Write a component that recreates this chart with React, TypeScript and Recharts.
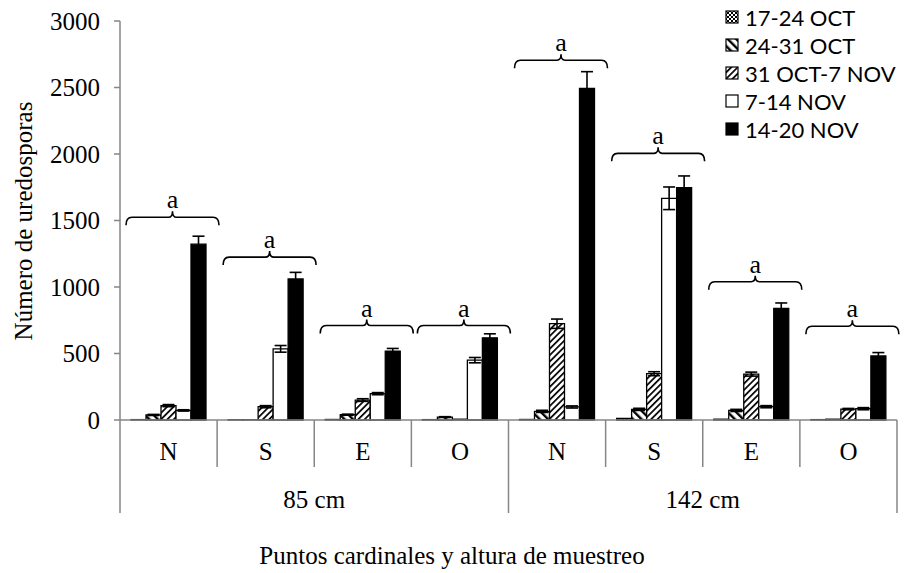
import { Bar, BarChart, ErrorBar, Label, Legend, XAxis, YAxis } from 'recharts'

const categories = ['N', 'S', 'E', 'O', 'N', 'S', 'E', 'O']
const heights = ['85 cm', '142 cm']
const seriesNames = ['17-24 OCT', '24-31 OCT', '31 OCT-7 NOV', '7-14 NOV', '14-20 NOV']

const oct17 = [3, 2, 4, 3, 4, 12, 6, 3]
const oct24 = [38, 2, 40, 22, 65, 80, 72, 6]
const oct31 = [108, 100, 150, 6, 724, 348, 345, 82]
const nov7 = [72, 535, 198, 450, 98, 1667, 100, 85]
const nov14 = [1322, 1060, 518, 618, 2494, 1747, 840, 482]

const errOct24 = [4, 0, 4, 3, 8, 8, 8, 0]
const errOct31 = [8, 8, 10, 0, 35, 15, 15, 5]
const errNov7 = [5, 25, 8, 20, 8, 85, 8, 8]
const errNov14 = [60, 50, 20, 30, 125, 88, 40, 25]

const bracketLevels = [1525, 1225, 710, 710, 2705, 2005, 1040, 705]
const bracketLetters = ['a', 'a', 'a', 'a', 'a', 'a', 'a', 'a']

const yTicks = [0, 500, 1000, 1500, 2000, 2500, 3000]

const data = categories.map((cat, i) => ({
  cat,
  oct17: oct17[i],
  oct24: oct24[i],
  oct31: oct31[i],
  nov7: nov7[i],
  nov14: nov14[i],
  errOct24: errOct24[i],
  errOct31: errOct31[i],
  errNov7: errNov7[i],
  errNov14: errNov14[i],
  bracket: bracketLevels[i],
}))

const W = 904
const H = 573
const MARGIN = { top: 21, right: 7, left: 0, bottom: 0 }
const Y_W = 120
const X_H = 153
const BAND = (W - Y_W - MARGIN.right) / categories.length
const AXIS = '#868686'
const SERIF = '"Liberation Serif", "Times New Roman", serif'
const FS = 25

const fills = ['url(#pChecker)', 'url(#pBack)', 'url(#pFwd)', '#ffffff', '#000000']

function Patterns() {
  return (
    <svg width={0} height={0} style={{ position: 'absolute' }}>
      <defs>
        <pattern id="pChecker" width={4} height={4} patternUnits="userSpaceOnUse">
          <rect width={4} height={4} fill="#fff" />
          <rect width={2} height={2} fill="#000" />
          <rect x={2} y={2} width={2} height={2} fill="#000" />
        </pattern>
        <pattern id="pBack" width={6} height={6} patternUnits="userSpaceOnUse" patternTransform="rotate(-45)">
          <rect width={6} height={6} fill="#fff" />
          <rect width={2.4} height={6} fill="#000" />
        </pattern>
        <pattern id="pFwd" width={4.5} height={6} patternUnits="userSpaceOnUse" patternTransform="rotate(45)">
          <rect width={4.5} height={6} fill="#fff" />
          <rect width={1.7} height={6} fill="#000" />
        </pattern>
      </defs>
    </svg>
  )
}

function CatTick(props: any) {
  const { x, y, index } = props
  const left = x - BAND / 2
  const groupStart = index % 4 === 0
  return (
    <g>
      <line x1={left} x2={left} y1={y} y2={groupStart ? y + 93 : y + 47} stroke={AXIS} strokeWidth={1.5} />
      {index === categories.length - 1 && (
        <line x1={x + BAND / 2} x2={x + BAND / 2} y1={y} y2={y + 93} stroke={AXIS} strokeWidth={1.5} />
      )}
      <text x={x} y={y + 40} textAnchor="middle" fontFamily={SERIF} fontSize={FS} fill="#000">
        {categories[index]}
      </text>
      {groupStart && (
        <text x={left + 2 * BAND} y={y + 88} textAnchor="middle" fontFamily={SERIF} fontSize={FS} fill="#000">
          {heights[index / 4]}
        </text>
      )}
    </g>
  )
}

function BracketShape(props: any) {
  const { x, y, width, index } = props
  const x1 = x + 4
  const x2 = x + width + 4
  const mid = (x1 + x2) / 2
  const d = `M${x1},${y + 8} Q${x1},${y} ${x1 + 6},${y} L${mid - 4},${y} Q${mid},${y} ${mid},${y - 6} Q${mid},${y} ${mid + 4},${y} L${x2 - 6},${y} Q${x2},${y} ${x2},${y + 8}`
  return (
    <g>
      <path d={d} fill="none" stroke="#000" strokeWidth={1.6} />
      <text x={mid} y={y - 9} textAnchor="middle" fontFamily={SERIF} fontSize={26} fill="#000">
        {bracketLetters[index]}
      </text>
    </g>
  )
}

function LegendBox() {
  return (
    <div style={{ fontFamily: 'Lato, "Open Sans", sans-serif', fontSize: 22, color: '#000' }}>
      {seriesNames.map((name, i) => (
        <div key={name} style={{ display: 'flex', alignItems: 'center', height: 28 }}>
          <svg width={15} height={15} style={{ marginRight: 5 }}>
            <rect x={1} y={1} width={12} height={12} fill={fills[i]} stroke="#000" strokeWidth={1.2} />
          </svg>
          <span style={{ whiteSpace: 'nowrap' }}>{name}</span>
        </div>
      ))}
    </div>
  )
}

export default function App() {
  const keys = ['oct17', 'oct24', 'oct31', 'nov7', 'nov14']
  const errKeys = [null, 'errOct24', 'errOct31', 'errNov7', 'errNov14']
  return (
    <div style={{ position: 'absolute', left: 0, top: 0, width: W, height: H, background: '#fff' }}>
      <Patterns />
      <BarChart width={W} height={H} data={data} margin={MARGIN} barGap={0} barCategoryGap={11}>
        <XAxis
          dataKey="cat"
          height={X_H}
          interval={0}
          tickSize={0}
          tickMargin={0}
          tickLine={false}
          axisLine={{ stroke: AXIS, strokeWidth: 1.5 }}
          tick={<CatTick />}
        >
          <Label
            content={() => (
              <text x={W / 2} y={564} textAnchor="middle" fontFamily={SERIF} fontSize={FS} fill="#000">
                Puntos cardinales y altura de muestreo
              </text>
            )}
          />
        </XAxis>
        <XAxis xAxisId="br" dataKey="cat" hide />
        <YAxis
          width={Y_W}
          domain={[0, 3000]}
          ticks={yTicks}
          interval={0}
          tickSize={6}
          tickMargin={14}
          axisLine={{ stroke: AXIS, strokeWidth: 1.5 }}
          tickLine={{ stroke: AXIS, strokeWidth: 1.5 }}
          tick={{ fill: '#000', fontSize: FS, fontFamily: SERIF }}
        >
          <Label
            content={() => (
              <text
                x={32}
                y={221}
                transform="rotate(-90, 32, 221)"
                textAnchor="middle"
                fontFamily={SERIF}
                fontSize={FS}
                fill="#000"
              >
                Número de uredosporas
              </text>
            )}
          />
        </YAxis>
        <Legend
          content={() => <LegendBox />}
          layout="vertical"
          verticalAlign="middle"
          align="center"
          wrapperStyle={{ left: 725, top: 3, width: 179 }}
        />
        {keys.map((k, i) => (
          <Bar
            key={k}
            dataKey={k}
            name={seriesNames[i]}
            fill={fills[i]}
            stroke="#000"
            strokeWidth={1.3}
            isAnimationActive={false}
          >
            {errKeys[i] && (
              <ErrorBar dataKey={errKeys[i] as string} width={6} stroke="#000" strokeWidth={1.6} />
            )}
          </Bar>
        ))}
        <Bar
          dataKey="bracket"
          xAxisId="br"
          barSize={93}
          legendType="none"
          shape={<BracketShape />}
          isAnimationActive={false}
        />
      </BarChart>
    </div>
  )
}
